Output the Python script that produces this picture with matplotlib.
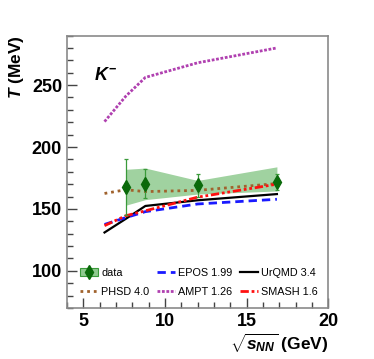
import matplotlib

matplotlib.use("Agg")
import matplotlib.pyplot as plt
from matplotlib.lines import Line2D
from matplotlib.patches import Patch
from matplotlib.ticker import MultipleLocator

plt.rcParams["font.family"] = ["Liberation Sans", "DejaVu Sans"]
plt.rcParams["mathtext.fontset"] = "custom"
plt.rcParams["mathtext.rm"] = "Liberation Sans:bold"
plt.rcParams["mathtext.it"] = "Liberation Sans:bold:italic"
plt.rcParams["mathtext.bf"] = "Liberation Sans:bold"

# measured data (K-)
data_x = [7.6, 8.8, 12.0, 16.85]
data_y = [167.5, 170.5, 169.0, 171.5]
data_err = [22.5, 11.5, 9.0, 6.5]

# systematic band
band_x = [7.6, 8.8, 12.0, 16.85]
band_lo = [153.0, 157.5, 162.0, 164.5]
band_hi = [182.0, 183.0, 173.0, 184.0]

# model curves
model_x = [6.3, 7.6, 8.8, 12.0, 16.85]
epos_y = [137.5, 143.0, 147.8, 154.0, 157.8]
urqmd_y = [131.0, 142.0, 152.4, 157.0, 162.0]
phsd_y = [162.5, 165.5, 164.0, 165.0, 170.5]
ampt_y = [220.5, 241.0, 256.2, 268.0, 280.0]
smash_y = [136.5, 144.5, 148.5, 159.5, 170.0]

fig = plt.figure(figsize=(3.74, 3.59), dpi=100)
ax = fig.add_axes([0.179, 0.142, 0.699, 0.759])

ax.fill_between(band_x, band_lo, band_hi, color="#8fca8f", alpha=0.85,
                linewidth=0, zorder=1)

ax.plot(model_x, phsd_y, color="#a0622d", linestyle=(0, (1, 1.4)), linewidth=2,
        zorder=2)
ax.plot(model_x, ampt_y, color="#b040b0", linestyle=(0, (1, 0.6)), linewidth=2,
        zorder=2)
ax.plot(model_x, urqmd_y, color="black", linestyle="-", linewidth=1.6, zorder=3)
ax.plot(model_x, epos_y, color="#1a1aff", linestyle=(0, (3, 1.8)), linewidth=2,
        zorder=3)
ax.plot(model_x, smash_y, color="#ff1010", linestyle=(0, (3, 1, 1, 1, 1, 1)),
        linewidth=2, zorder=4)

ax.errorbar(data_x, data_y, yerr=data_err, fmt="none", ecolor="#3a9a3a",
            elinewidth=0.9, capsize=1.5, capthick=0.9, zorder=5)
ax.plot(data_x, data_y, linestyle="none", marker="d", markersize=7.5,
        color="#0a6a0a", markeredgecolor="#0a6a0a", zorder=6)

ax.set_xlim(4, 20)
ax.set_ylim(70, 290)
ax.xaxis.set_major_locator(MultipleLocator(5))
ax.xaxis.set_minor_locator(MultipleLocator(1))
ax.yaxis.set_major_locator(MultipleLocator(50))
ax.yaxis.set_minor_locator(MultipleLocator(10))
ax.tick_params(which="both", direction="in", top=False, right=False,
               color="#444444", labelsize=13)
ax.tick_params(which="major", length=7, width=1)
ax.tick_params(which="minor", length=4, width=1)
for lab in ax.get_xticklabels() + ax.get_yticklabels():
    lab.set_fontweight("bold")
for sp in ax.spines.values():
    sp.set_color("#8a8a8a")
    sp.set_linewidth(1.2)

ax.set_ylabel(r"$T$ (MeV)", fontsize=12.5, fontweight="bold", loc="top")
ax.set_xlabel(r"$\sqrt{s_{NN}}$ (GeV)", fontsize=12.5, fontweight="bold",
              loc="right")
ax.yaxis.set_label_coords(-0.155, 1.0)
ax.xaxis.set_label_coords(1.0, -0.085)

ax.text(0.105, 0.855, r"$K^{-}$", transform=ax.transAxes, fontsize=13,
        va="center", ha="left")

data_handle = (Patch(facecolor="#8fca8f", edgecolor="#3a9a3a", linewidth=0.8),
               Line2D([], [], linestyle="none", marker="d", markersize=7,
                      color="#0a6a0a"))
handles = [
    data_handle,
    Line2D([], [], color="#a0622d", linestyle=(0, (1, 1.4)), linewidth=2),
    Line2D([], [], color="#1a1aff", linestyle=(0, (3, 1.8)), linewidth=2),
    Line2D([], [], color="#b040b0", linestyle=(0, (1, 0.6)), linewidth=2),
    Line2D([], [], color="black", linestyle="-", linewidth=1.6),
    Line2D([], [], color="#ff1010", linestyle=(0, (3, 1, 1, 1, 1, 1)), linewidth=2),
]
labels = ["data", "PHSD 4.0", "EPOS 1.99", "AMPT 1.26", "UrQMD 3.4", "SMASH 1.6"]
ax.legend(handles, labels, ncol=3, loc="lower left", bbox_to_anchor=(0.035, 0.025),
          frameon=False, fontsize=7.8, handlelength=1.6, handletextpad=0.3,
          columnspacing=0.75, labelspacing=0.85, borderaxespad=0)

fig.savefig("out.png", dpi=100)
